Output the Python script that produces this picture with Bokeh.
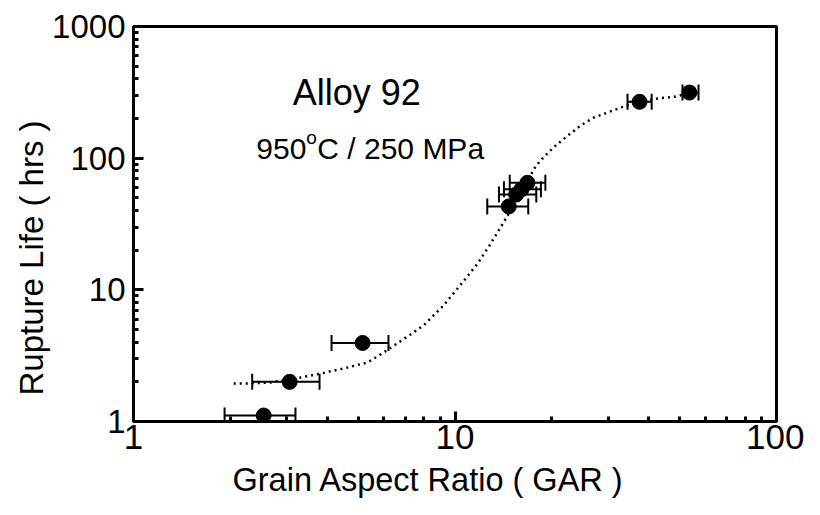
from bokeh.plotting import figure
from bokeh.models import (ColumnDataSource, Whisker, TeeHead, FixedTicker, Label,
                          Range1d, PrintfTickFormatter, Title)
from bokeh.embed import file_html
from bokeh.resources import INLINE

# Data
gar = [2.54, 3.06, 5.16, 14.7, 15.5, 16.1, 16.8, 37.5, 53.6]
life = [1.11, 2.0, 3.95, 43.0, 53.0, 58.0, 65.0, 268, 315]
gar_lo = [1.92, 2.34, 4.13, 12.6, 13.7, 14.2, 14.8, 34.4, 51.0]
gar_hi = [3.19, 3.79, 6.21, 16.9, 17.9, 18.5, 19.1, 40.9, 57.2]

curve_x = [2.05, 2.34, 2.67, 3.31, 3.82, 4.63, 5.35, 6.0, 6.53, 7.27, 7.98, 9.21,
           10.5, 11.7, 12.8, 14.4, 17.8, 18.7, 20.2, 22.4, 24.6, 27.0, 29.8,
           32.7, 37.5, 42.7, 47.9, 54.0]
curve_y = [1.94, 1.95, 1.98, 2.16, 2.31, 2.57, 2.81, 3.34, 3.84, 4.58, 5.36, 7.6,
           11.2, 15.6, 21.7, 34.8, 86.4, 99.3, 120, 148, 177, 203, 222,
           242, 268, 284, 292, 312]

x_major = [1, 10, 100]
x_minor = [2, 3, 4, 5, 6, 7, 8, 9, 20, 30, 40, 50, 60, 70, 80, 90]
y_major = [1, 10, 100, 1000]
y_minor = [2, 3, 4, 5, 6, 7, 8, 9, 20, 30, 40, 50, 60, 70, 80, 90,
           200, 300, 400, 500, 600, 700, 800, 900]

FONT = "Liberation Sans"

p = figure(frame_width=643, frame_height=395, x_axis_type="log", y_axis_type="log",
           x_range=Range1d(1, 100), y_range=Range1d(1, 1000),
           output_backend="svg", toolbar_location=None,
           min_border_left=133, min_border_right=28,
           min_border_top=26, min_border_bottom=80)

p.grid.visible = False
p.outline_line_color = "black"
p.outline_line_width = 3
p.background_fill_color = "white"
p.border_fill_color = "white"

p.xaxis.ticker = FixedTicker(ticks=x_major, minor_ticks=x_minor)
p.yaxis.ticker = FixedTicker(ticks=y_major, minor_ticks=y_minor)

for ax in (p.xaxis[0], p.yaxis[0]):
    ax.formatter = PrintfTickFormatter(format="%d")
    ax.axis_line_width = 3
    ax.axis_line_color = "black"
    ax.major_tick_in = 10
    ax.major_tick_out = 0
    ax.minor_tick_in = 5
    ax.minor_tick_out = 0
    ax.major_tick_line_width = 3
    ax.minor_tick_line_width = 3
    ax.major_label_text_font = FONT
    ax.major_label_text_color = "black"

p.xaxis.major_label_text_font_size = "35px"
p.yaxis.major_label_text_font_size = "33px"
p.xaxis.major_label_standoff = 3
p.yaxis.major_label_standoff = 8

# axis titles
p.add_layout(Title(text="Grain Aspect Ratio ( GAR )", align="left", offset=99,
                   standoff=17, text_font=FONT, text_font_size="32.5px",
                   text_font_style="normal", text_color="black"), "below")
p.add_layout(Title(text="Rupture Life ( hrs )", align="left", offset=26,
                   standoff=0, text_font=FONT, text_font_size="33px",
                   text_font_style="normal", text_color="black"), "left")

# fitted curve (dotted)
p.line(curve_x, curve_y, line_color="black", line_width=2.5, line_dash="2 4")

src = ColumnDataSource(dict(x=gar, y=life, lo=gar_lo, hi=gar_hi))
w = Whisker(source=src, base="y", lower="lo", upper="hi", dimension="width",
            line_color="black", line_width=2,
            lower_head=TeeHead(size=16, line_width=2, line_color="black"),
            upper_head=TeeHead(size=16, line_width=2, line_color="black"))
p.add_layout(w)
p.scatter("x", "y", source=src, size=15, color="black")

# annotations
p.add_layout(Label(x=4.95, y=314, text="Alloy 92", text_align="center",
                   text_baseline="alphabetic", text_font=FONT,
                   text_font_size="36px", text_color="black"))
x0, y0 = 2.41, 118
p.add_layout(Label(x=x0, y=y0, text="950", text_align="left",
                   text_baseline="alphabetic", text_font=FONT,
                   text_font_size="30px", text_color="black"))
p.add_layout(Label(x=x0, y=y0, x_offset=50, y_offset=11, text="o", text_align="left",
                   text_baseline="alphabetic", text_font=FONT,
                   text_font_size="19px", text_color="black"))
p.add_layout(Label(x=x0, y=y0, x_offset=61, text="C / 250 MPa", text_align="left",
                   text_baseline="alphabetic", text_font=FONT,
                   text_font_size="30px", text_color="black"))

open("out.html", "w").write(file_html(p, INLINE))
